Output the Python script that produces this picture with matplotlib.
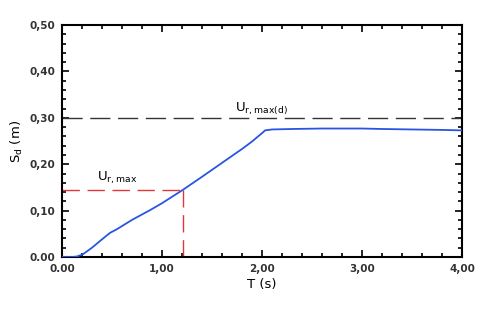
import matplotlib
matplotlib.use("Agg")
import matplotlib.pyplot as plt
from matplotlib.ticker import MultipleLocator, FixedLocator, FixedFormatter

# curva de desplazamiento espectral
T = [0.00, 0.10, 0.15, 0.21, 0.30, 0.40, 0.48, 0.55, 0.70, 0.88, 1.00, 1.21,
     1.40, 1.60, 1.80, 1.90, 1.96, 2.00, 2.03, 2.10, 2.30, 2.60, 3.00, 3.20,
     3.50, 3.80, 4.00]
Sd = [0.000, 0.000, 0.001, 0.006, 0.020, 0.038, 0.052, 0.060, 0.080, 0.101,
      0.116, 0.145, 0.173, 0.203, 0.233, 0.249, 0.260, 0.267, 0.273, 0.275,
      0.276, 0.277, 0.277, 0.276, 0.275, 0.274, 0.273]

u_rmax_d = 0.30
u_rmax = 0.145
t_rmax = 1.21

xticks = [0, 1, 2, 3, 4]
xlabels = ["0.00", "1,00", "2,00", "3,00", "4,00"]
yticks = [0, 0.1, 0.2, 0.3, 0.4, 0.5]
ylabels = ["0.00", "0,10", "0,20", "0,30", "0,40", "0,50"]

fig = plt.figure(figsize=(4.88, 3.10), dpi=100)
ax = fig.add_axes([0.127, 0.171, 0.820, 0.748])

ax.plot(T, Sd, color="#2a55e0", lw=1.3, zorder=3)
ax.axhline(u_rmax_d, color="#333333", lw=1.0, dashes=(14.5, 5.5))
ax.plot([0, t_rmax], [u_rmax, u_rmax], color="#e03838", lw=1.0, dashes=(12.5, 5.5))
ax.plot([t_rmax, t_rmax], [0, u_rmax], color="#e03838", lw=1.0, dashes=(12.5, 5.5))

ax.text(0.55, 0.152, r"U$_{\mathrm{r,max}}$", fontsize=9.5, ha="center", va="bottom")
ax.text(1.99, 0.302, r"U$_{\mathrm{r,max(d)}}$", fontsize=9.5, ha="center", va="bottom")

ax.set_xlim(0, 4)
ax.set_ylim(0, 0.5)
ax.xaxis.set_major_locator(FixedLocator(xticks))
ax.xaxis.set_major_formatter(FixedFormatter(xlabels))
ax.yaxis.set_major_locator(FixedLocator(yticks))
ax.yaxis.set_major_formatter(FixedFormatter(ylabels))
ax.xaxis.set_minor_locator(MultipleLocator(0.2))
ax.yaxis.set_minor_locator(MultipleLocator(0.02))
ax.tick_params(which="both", direction="in", top=True, right=True, width=1.2)
ax.tick_params(which="major", length=5, labelsize=7.5, pad=5)
ax.tick_params(which="minor", length=3)
for lab in ax.get_xticklabels() + ax.get_yticklabels():
    lab.set_fontweight("bold")
    lab.set_color("#333333")
for s in ax.spines.values():
    s.set_linewidth(1.5)

ax.set_xlabel("T (s)", fontsize=9.5, labelpad=3)
ax.set_ylabel(r"S$_{\mathrm{d}}$ (m)", fontsize=9.5, labelpad=3)

fig.savefig("out.png", dpi=100)
